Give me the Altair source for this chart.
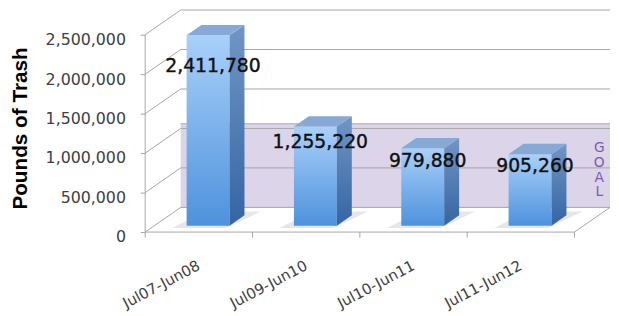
import altair as alt
import pandas as pd

# ---------------- data ----------------
categories = ["Jul07-Jun08", "Jul09-Jun10", "Jul10-Jun11", "Jul11-Jun12"]
pounds = [2411780, 1255220, 979880, 905260]
label_text = ["2,411,780", "1,255,220", "979,880", "905,260"]
y_ticks = [0, 500000, 1000000, 1500000, 2000000, 2500000]
goal_top = 1060000
goal_letters = "G\nO\nA\nL"

# ---------------- 3D geometry (data units) ----------------
N = len(categories)
DX = 0.331        # depth offset in category units
DY = 312500       # depth offset in pounds
F = 0.26          # bar front depth fraction
B = 0.42          # bar depth fraction
HW = 0.2          # bar half width
TICK = 70000      # category tick length
XLAB_Y = -410000  # x label anchor
LABEL_FRAC = 0.84

GRID = "#a6a6a6"

# frame segments
seg = []
seg.append(dict(x=0, y=0, x2=0, y2=y_ticks[-1]))
for v in y_ticks:
    seg.append(dict(x=0, y=v, x2=DX, y2=v + DY))
    seg.append(dict(x=DX, y=v + DY, x2=N + DX, y2=v + DY))
seg.append(dict(x=0, y=0, x2=N, y2=0))
seg.append(dict(x=N, y=0, x2=N + DX, y2=DY))
for i in range(N + 1):
    seg.append(dict(x=i, y=0, x2=i, y2=-TICK))
seg_df = pd.DataFrame(seg)

goal_df = pd.DataFrame([dict(x=DX, x2=N + DX, y=DY, y2=goal_top + DY)])
goal_edge_df = pd.DataFrame([dict(x=DX, x2=N + DX, y=goal_top + DY)])

front, side, top, shadow, labels, xlabs = [], [], [], [], [], []
for i, (c, v, t) in enumerate(zip(categories, pounds, label_text)):
    xl = i + 0.5 - HW
    xr = i + 0.5 + HW
    front.append(dict(bar=c, x=xl + F * DX, x2=xr + F * DX, y=F * DY, y2=v + F * DY))
    side.append(dict(bar=c, x=xr + F * DX, lo=F * DY, hi=v + F * DY))
    side.append(dict(bar=c, x=xr + (F + B) * DX, lo=(F + B) * DY, hi=v + (F + B) * DY))
    top.append(dict(bar=c, y=v + F * DY, xa=xl + F * DX, xb=xr + F * DX))
    top.append(dict(bar=c, y=v + (F + B) * DY, xa=xl + (F + B) * DX, xb=xr + (F + B) * DX))
    t1, t2 = F - 0.1, F + B + 0.15
    shadow.append(dict(bar=c, y=t1 * DY, xa=xl + t1 * DX - 0.1, xb=xr + t1 * DX))
    shadow.append(dict(bar=c, y=t2 * DY, xa=xl + t2 * DX - 0.02, xb=xr + t2 * DX + 0.1))
    labels.append(dict(x=i + 0.5 + F * DX, y=LABEL_FRAC * v + F * DY, text=t))
    xlabs.append(dict(x=i + 0.5, y=XLAB_Y, text=c))

front_df = pd.DataFrame(front)
side_df = pd.DataFrame(side)
top_df = pd.DataFrame(top)
shadow_df = pd.DataFrame(shadow)
labels_df = pd.DataFrame(labels)
xlab_df = pd.DataFrame(xlabs)
goal_txt_df = pd.DataFrame([dict(x=N + DX - 0.1, y=goal_top * 0.71 + DY, text=goal_letters)])

# ---------------- scales ----------------
xs = alt.Scale(domain=[0, 4.3402], nice=False, zero=False)
ys = alt.Scale(domain=[-1037500, 2812500], nice=False, zero=False)

yaxis = alt.Axis(
    values=y_ticks, labelExpr="format(datum.value, ',')", domain=False, grid=False,
    ticks=True, tickSize=5, tickColor=GRID,
    labelColor="#404040", labelFont="DejaVu Sans", labelFontSize=16,
    labelPadding=15, labelOffset=5,
    title="Pounds of Trash", titleFont="Liberation Sans", titleFontSize=21,
    titleFontWeight="bold", titleColor="black",
    titleX=-126.5, titleY=119.5, titleAngle=270, titleAlign="center",
    titleBaseline="middle",
)


def X(f):
    return alt.X(f, type="quantitative", scale=xs, axis=None)


def Y(f):
    return alt.Y(f, type="quantitative", scale=ys, axis=yaxis)


goal = alt.Chart(goal_df).mark_rect(color="#dcd4e8").encode(
    x=X("x"), x2="x2", y=Y("y"), y2="y2"
)
goal_edge = alt.Chart(goal_edge_df).mark_rule(color="#c4b9d4", strokeWidth=1.5).encode(
    x=X("x"), x2="x2", y=Y("y")
)

frame = alt.Chart(seg_df).mark_rule(color=GRID, strokeWidth=1).encode(
    x=X("x"), x2="x2", y=Y("y"), y2="y2"
)

shadow_l = alt.Chart(shadow_df).mark_area(orient="horizontal", color="#d4d4d4", opacity=0.55).encode(
    y=Y("y"), x=X("xa"), x2="xb", detail="bar:N"
)

front_grad = alt.Gradient(
    gradient="linear", x1=0, y1=0, x2=0, y2=1,
    stops=[alt.GradientStop(color="#a9d0fa", offset=0),
           alt.GradientStop(color="#4e92dc", offset=1)],
)
side_grad = alt.Gradient(
    gradient="linear", x1=0, y1=0, x2=0, y2=1,
    stops=[alt.GradientStop(color="#7096c6", offset=0),
           alt.GradientStop(color="#3565a3", offset=1)],
)

front_l = alt.Chart(front_df).mark_rect(color=front_grad).encode(
    x=X("x"), x2="x2", y=Y("y"), y2="y2"
)
side_l = alt.Chart(side_df).mark_area(color=side_grad).encode(
    x=X("x"), y=Y("lo"), y2="hi", detail="bar:N"
)
top_l = alt.Chart(top_df).mark_area(orient="horizontal", color="#86a9d6").encode(
    y=Y("y"), x=X("xa"), x2="xb", detail="bar:N"
)

label_l = alt.Chart(labels_df).mark_text(
    font="DejaVu Sans", fontSize=19, color="#111111", baseline="middle", align="center", dx=5,
    stroke="#111111", strokeWidth=0.4
).encode(x=X("x"), y=Y("y"), text="text:N")

xlab_l = alt.Chart(xlab_df).mark_text(
    font="DejaVu Sans", fontSize=15, color="#404040", angle=332, align="right", baseline="middle"
).encode(x=X("x"), y=Y("y"), text="text:N")

goal_txt = alt.Chart(goal_txt_df).mark_text(
    font="DejaVu Sans", fontSize=14, color="#7b5ea7", align="center", baseline="middle",
    lineBreak="\n", lineHeight=15
).encode(x=X("x"), y=Y("y"), text="text:N")

chart = alt.layer(
    goal, goal_edge, frame, shadow_l, front_l, side_l, top_l, label_l, xlab_l, goal_txt
).properties(
    width=472, height=308,
    autosize=alt.AutoSizeParams(type="none"),
    padding={"left": 139, "top": 0, "right": 0, "bottom": 0},
).configure_view(stroke=None)

chart.save("out.html", embed_options={"renderer": "svg", "actions": False})
